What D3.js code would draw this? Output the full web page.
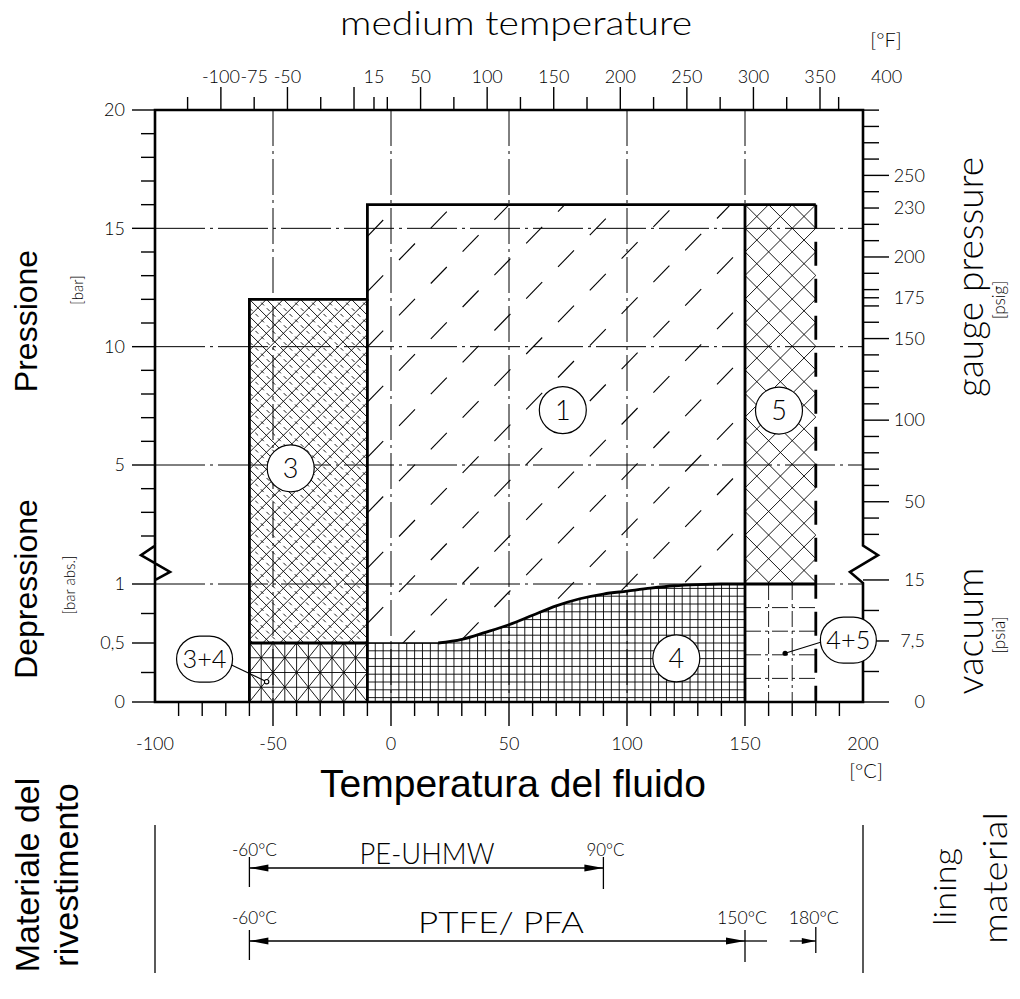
<!DOCTYPE html>
<html><head><meta charset="utf-8">
<script src="https://cdn.jsdelivr.net/npm/d3@7"></script>
<style>body{margin:0;background:#fff}svg{display:block;background:#fff}</style>
</head><body><svg id="c" width="1020" height="999"></svg>
<script>
// ---------------- DATA ----------------
const cLabels = [-100,-50,0,50,100,150,200];
const cLongTicks = [-50,0,50,100,150];
const cShortTicks = [-90,-80,-70,-60,-40,-30,-20,-10,10,20,30,40,60,70,80,90,110,120,130,140,160,170,180,190];
const fLabels = [-100,-75,-50,15,50,100,150,200,250,300,350,400];
const fLongTicks = [-100,-50,0,50,100,150,200,250,300,350];
const fShortTicks = [-125,-75,-25,15,25,75,125,175,225,275,325,364];
const barGaugeLabels = [20,15,10,5];
const barGaugeMinor = [2,3,4,6,7,8,9,11,12,13,14,16,17,18,19];
const barVacLabels = [1,0.5,0];
const barVacLabelText = ["1","0,5","0"];
const barVacMinor = [0.25,0.75];
const psigLabels = [250,230,200,175,150,100,50];
const psigLong = [250,200,150,100,50];
const psigMinor = [30,40,60,70,80,90,110,120,130,140,160,170,175,180,190,210,220,230,240,260,270,280,290];
const psiaLabels = [15,7.5,0];
const psiaLabelText = ["15","7,5","0"];
const psiaMinor = [3.75,11.25];
const gridC = [-50,0,50,100,150];
const gridGauge = [15,10,5];
const gridVac = [1];
// limit curve between zone 1 (above) and zone 4 (below): bar abs
const curveT = [-10,0,10,20,30,40,50,60,70,80,90,100,110,120,130,140,150];
const curveV = [0.5,0.5,0.5,0.5,0.53,0.59,0.655,0.735,0.815,0.875,0.915,0.94,0.965,0.985,0.995,1.0,1.0];
// zones
const zone3 = {t0:-60, t1:-10, topBar:12, bottomVac:0.5};
const zone1 = {t0:-10, t1:150, topBar:16};
const zone5 = {t0:150, t1:180, topBar:16, bottomVac:1};
const zone34 = {t0:-60, t1:-10, topVac:0.5};
const zone45 = {t0:150, t1:180, topVac:1};
const zone45GridT = [160,170];
const zone45GridV = [0.2,0.4,0.6,0.8];
// circle labels (°C, value, scale kind)
const circNames = ["1","3","4","5"];
const circT = [72.8,-42.5,120.9,164.4];
const circV = [7.32,4.86,0.37,7.3];
const circKind = ["g","g","v","g"];
const capNames = ["3+4","4+5"];
const capT = [-79,193.8];
const capV = [0.364,0.525];
const capPointT = [-52.7,167];
const capPointV = [0.172,0.413];
// lining materials
const matNames = ["PE-UHMW","PTFE/ PFA"];
const matMinC = [-60,-60];
const matMaxC = [90,150];
const matExtC = [null,180];
const PSI = 0.0689476;

// ---------------- LAYOUT ----------------
const svg = d3.select("#c");
const x = d3.scaleLinear().domain([-100,200]).range([155,863]);
const yG = d3.scaleLinear().domain([2,20]).range([536,110]);
const yV = d3.scaleLinear().domain([0,1]).range([702,584]);
const xf = d3.scaleLinear().domain([-125,350]).range([187.6,820]);
const L = x(-100), R = x(200), T = yG(20), B = yV(0);
const TECH = "Lato, 'Open Sans', sans-serif";
const ARIAL = "'Liberation Sans', Arial, sans-serif";
const ink = "#000";

svg.append("rect").attr("width",1020).attr("height",999).attr("fill","#fff");
const defs = svg.append("defs");

const curveData = curveT.map((t,i)=>({t, v:curveV[i]}));
const area1 = d3.area().x(d=>x(d.t)).y0(yG(zone1.topBar)).y1(d=>yV(d.v)).curve(d3.curveMonotoneX);
const area4 = d3.area().x(d=>x(d.t)).y0(yV(0)).y1(d=>yV(d.v)).curve(d3.curveMonotoneX);
const rectPath = (x0,y0,x1,y1)=>`M${x0},${y0}H${x1}V${y1}H${x0}Z`;
function clip(id, d){ defs.append("clipPath").attr("id",id).append("path").attr("d",d); }
clip("c1", area1(curveData));
clip("c4", area4(curveData));
clip("c3", rectPath(x(zone3.t0),yG(zone3.topBar),x(zone3.t1),yV(zone3.bottomVac)));
clip("c5", rectPath(x(zone5.t0),yG(zone5.topBar),x(zone5.t1),yV(zone5.bottomVac)));
clip("c34", rectPath(x(zone34.t0),yV(zone34.topVac),x(zone34.t1),yV(0)));
clip("c45", rectPath(x(zone45.t0),yV(zone45.topVac),x(zone45.t1),yV(0)));

function lines(g, arr, w, dash){
  g.selectAll(null).data(arr).join("line")
    .attr("x1",d=>d[0]).attr("y1",d=>d[1]).attr("x2",d=>d[2]).attr("y2",d=>d[3])
    .attr("stroke",ink).attr("stroke-width",w).attr("stroke-dasharray",dash||null);
}
function diagSet(x0,y0,step,dx,dy,n){
  const out=[]; const Lh=800;
  for(let k=-n;k<=n;k++){ const px=x0+k*step; out.push([px-dx*Lh, y0-dy*Lh, px+dx*Lh, y0+dy*Lh]); }
  return out;
}
function vSet(x0,step,n,ya,yb){ const o=[]; for(let k=-n;k<=n;k++) o.push([x0+k*step,ya,x0+k*step,yb]); return o; }
function hSet(y0,step,n,xa,xb){ const o=[]; for(let k=-n;k<=n;k++) o.push([xa,y0+k*step,xb,y0+k*step]); return o; }

// zone 4 : fine square grid
const g4 = svg.append("g").attr("clip-path","url(#c4)");
lines(g4, vSet(x(0),7.87,60,yV(1.1),yV(0)), 0.9);
lines(g4, hSet(yV(0.5),7.8,20,x(-10),x(150)), 0.9);

// zone 3+4 : grid + diamonds
const g34 = svg.append("g").attr("clip-path","url(#c34)");
lines(g34, vSet(x(-60),11.8,12,yV(0.5),yV(0)), 0.9);
lines(g34, hSet(yV(0.5),14.75,6,x(-60),x(-10)), 0.9);
lines(g34, diagSet(x(-60),yV(0.5),23.6,0.625,0.78,20), 0.9);
lines(g34, diagSet(x(-60),yV(0.5),23.6,-0.625,0.78,20), 0.9);

// zone 3 : dense cross hatch with dashed intermediate lines
const g3 = svg.append("g").attr("clip-path","url(#c3)");
lines(g3, diagSet(x(-60),yG(12),17,1,1,60), 0.9);
lines(g3, diagSet(x(-60),yG(12),17,-1,1,60), 0.9);
lines(g3, diagSet(x(-60)+8.5,yG(12),17,1,1,60), 0.9, "4,4");

// zone 5 : cross hatch
const g5 = svg.append("g").attr("clip-path","url(#c5)");
lines(g5, diagSet(x(150),yG(16),23.6,1,1,40), 0.9);
lines(g5, diagSet(x(150),yG(16),23.6,-1,1,40), 0.9);

// zone 1 : short strokes on a staggered lattice
const g1 = svg.append("g").attr("clip-path","url(#c1)");
const segs=[]; const ox=399, oy=260;
for(let m=-20;m<=20;m++) for(let n=-20;n<=20;n++){
  const px=ox+m*31.8, py=oy+m*23.5+n*55.3;
  if(px>x(-10)-20 && px<x(150)+5 && py>yG(16)-5 && py<yV(0.5)+20) segs.push([px,py,px+16,py-16.5]);
}
lines(g1, segs, 1.1);

// zone 4+5 : dashed grid
const g45 = svg.append("g").attr("clip-path","url(#c45)");
lines(g45, zone45GridT.map(t=>[x(t),yV(1),x(t),yV(0)]), 0.9, "16,4,3,4");
lines(g45, zone45GridV.map(v=>[x(150),yV(v),x(180),yV(v)]), 0.9, "16,4,3,4");

// gridlines (dash-dot)
const gGrid = svg.append("g");
lines(gGrid, gridGauge.map(p=>[L,yG(p),R,yG(p)]), 1, "50,5,3,5");
lines(gGrid, gridVac.map(v=>[L,yV(v),R,yV(v)]), 1, "50,5,3,5");
lines(gGrid, gridC.map(c=>[x(c),T,x(c),B]), 1, "36,5,3,5");

// zone outlines
const TW = 2.8;
const gOut = svg.append("g").attr("fill","none").attr("stroke",ink);
gOut.append("path").attr("stroke-width",TW)
  .attr("d",`M${x(zone3.t0)},${B}V${yG(zone3.topBar)}H${x(zone3.t1)}V${yG(zone1.topBar)}H${x(zone5.t1)}`);
gOut.append("path").attr("stroke-width",TW).attr("d",`M${x(zone3.t1)},${yG(zone3.topBar)}V${B}`);
gOut.append("path").attr("stroke-width",TW).attr("d",`M${x(zone5.t0)},${yG(zone5.topBar)}V${B}`);
gOut.append("path").attr("stroke-width",TW).attr("d",`M${x(zone3.t0)},${yV(0.5)}H${x(zone3.t1)}`);
gOut.append("path").attr("stroke-width",TW).attr("d",`M${x(zone5.t0)},${yV(1)}H${x(zone5.t1)}`);
gOut.append("path").attr("stroke-width",TW).attr("stroke-dasharray","24,13")
  .attr("d",`M${x(zone5.t1)},${yG(zone5.topBar)}V${B}`);
const lineC = d3.line().x(d=>x(d.t)).y(d=>yV(d.v)).curve(d3.curveMonotoneX);
gOut.append("path").attr("stroke-width",1.6).attr("d",lineC(curveData.slice(0,5)));
gOut.append("path").attr("stroke-width",TW).attr("d",lineC(curveData.slice(3)));

// frame with breaks
const FW = 2.6;
const brk = (a)=> yG(2) + (yV(1)-yG(2))*a;
svg.append("path").attr("fill","none").attr("stroke",ink).attr("stroke-width",FW)
  .attr("d",`M${L},${B}V${brk(0.2)}L${L-14},${brk(0.4)}L${L+15},${brk(0.75)}L${L},${brk(0.92)}V${T}H${R}V${brk(0.2)}L${R+15},${brk(0.4)}L${R-13},${brk(0.75)}L${R},${brk(0.98)}V${B}Z`);

// axes ticks
const gT = svg.append("g");
lines(gT, cLongTicks.map(c=>[x(c),B,x(c),B+24]), 1.4);
lines(gT, cShortTicks.map(c=>[x(c),B,x(c),B+14]), 1.4);
lines(gT, fLongTicks.map(f=>[xf(f),T,xf(f),T-23]), 1.4);
lines(gT, fShortTicks.map(f=>[xf(f),T,xf(f),T-13]), 1.4);
lines(gT, barGaugeLabels.map(p=>[L-23,yG(p),L,yG(p)]), 1.4);
lines(gT, barGaugeMinor.map(p=>[L-14,yG(p),L,yG(p)]), 1.4);
lines(gT, barVacLabels.map(v=>[L-23,yV(v),L,yV(v)]), 1.4);
lines(gT, barVacMinor.map(v=>[L-14,yV(v),L,yV(v)]), 1.4);
lines(gT, psigLong.map(p=>[R,yG(p*PSI),R+26,yG(p*PSI)]), 1.4);
lines(gT, psigMinor.map(p=>[R,yG(p*PSI),R+16,yG(p*PSI)]), 1.4);
lines(gT, psiaLabels.map(p=>[R,yV(p*PSI),R+26,yV(p*PSI)]), 1.4);
lines(gT, psiaMinor.map(p=>[R,yV(p*PSI),R+16,yV(p*PSI)]), 1.4);

// text helper
function txt(g, s, px, py, o){
  const t = g.append("text").attr("x",px).attr("y",py).text(s)
    .attr("font-family",o.f||TECH).attr("font-weight",o.w||300).attr("font-size",o.s)
    .attr("text-anchor",o.a||"middle").attr("fill",ink);
  if(o.dy) t.attr("dy",o.dy);
  if(o.len){ t.attr("textLength",o.len).attr("lengthAdjust","spacingAndGlyphs"); }
  if(o.rot) t.attr("transform",`rotate(${o.rot},${px},${py})`);
  return t;
}
const gL = svg.append("g");
cLabels.forEach(c=>txt(gL, String(c), x(c), 750, {s:18}));
fLabels.forEach(f=>txt(gL, String(f), xf(f), 83, {s:18}));
barGaugeLabels.forEach(p=>txt(gL, String(p), 125, yG(p), {s:18, a:"end", dy:"0.35em"}));
barVacLabels.forEach((v,i)=>txt(gL, barVacLabelText[i], 125, yV(v), {s:18, a:"end", dy:"0.35em"}));
psigLabels.forEach(p=>txt(gL, String(p), 925, yG(p*PSI), {s:18, a:"end", dy:"0.35em"}));
psiaLabels.forEach((p,i)=>txt(gL, psiaLabelText[i], 925, yV(p*PSI), {s:18, a:"end", dy:"0.35em"}));

// titles
txt(gL, "medium temperature", 516, 35, {s:33, len:352});
txt(gL, "[°F]", 886, 47, {s:20});
txt(gL, "Temperatura del fluido", 513, 797, {s:39, f:ARIAL, w:400});
txt(gL, "[°C]", 866, 778, {s:20});
txt(gL, "Pressione", 37, 321, {s:32, f:ARIAL, w:400, rot:-90});
txt(gL, "[bar]", 83, 290, {s:15, rot:-90});
txt(gL, "Depressione", 37, 589, {s:32, f:ARIAL, w:400, rot:-90});
txt(gL, "[bar abs.]", 75, 585, {s:15, rot:-90});
txt(gL, "Materiale del", 39, 875, {s:34, f:ARIAL, w:400, rot:-90});
txt(gL, "rivestimento", 78, 875, {s:34, f:ARIAL, w:400, rot:-90});
txt(gL, "gauge pressure", 983, 277, {s:38, rot:-90, len:240});
txt(gL, "[psig]", 1005, 300, {s:17, rot:-90});
txt(gL, "vacuum", 983, 631, {s:38, rot:-90, len:127});
txt(gL, "[psia]", 1005, 635, {s:17, rot:-90});
txt(gL, "lining", 956, 887, {s:31, rot:-90, len:78});
txt(gL, "material", 1007, 878, {s:33, rot:-90, len:132});

// circle labels
const gC = svg.append("g");
circNames.forEach((n,i)=>{
  const cx = x(circT[i]), cy = circKind[i]==="g" ? yG(circV[i]) : yV(circV[i]);
  gC.append("circle").attr("cx",cx).attr("cy",cy).attr("r",23.5).attr("fill","#fff").attr("stroke",ink).attr("stroke-width",1.2);
  txt(gC, n, cx, cy, {s:27, dy:"0.36em"});
});
capNames.forEach((n,i)=>{
  const cx = x(capT[i]), cy = yV(capV[i]), w = 56, h = 46;
  const px = x(capPointT[i]), py = yV(capPointV[i]);
  const sx = px>cx ? cx + w/2 - 1 : cx - w/2 + 1;
  gC.append("line").attr("x1",sx).attr("y1",cy+ (i===0?6:2)).attr("x2",px).attr("y2",py).attr("stroke",ink).attr("stroke-width",1.1);
  if(i===0) gC.append("circle").attr("cx",px).attr("cy",py).attr("r",2.2).attr("fill","#fff").attr("stroke",ink).attr("stroke-width",1.1);
  else gC.append("circle").attr("cx",px).attr("cy",py).attr("r",2.6).attr("fill",ink);
  gC.append("rect").attr("x",cx-w/2).attr("y",cy-h/2).attr("width",w).attr("height",h).attr("rx",h/2).attr("ry",h/2)
    .attr("fill","#fff").attr("stroke",ink).attr("stroke-width",1.2);
  txt(gC, n, cx, cy, {s:26, dy:"0.36em", len:44});
});

// lining material section
const gM = svg.append("g");
lines(gM, [[L,825,L,973],[R,825,R,973]], 1.3);
const rowY = [868, 941], rowLab = [856, 924], rowName = [864, 933];
function arrowHead(g, px, py, dir){
  g.append("path").attr("d",`M${px},${py}L${px-dir*19},${py-3.5}L${px-dir*19},${py+3.5}Z`).attr("fill",ink);
}
matNames.forEach((n,i)=>{
  const a = x(matMinC[i]), b = x(matMaxC[i]), yy = rowY[i];
  lines(gM, [[a,yy,b,yy],[a,yy-11,a,yy+19],[b,yy-11,b,yy+21]], 1.3);
  arrowHead(gM, a, yy, -1); arrowHead(gM, b, yy, 1);
  txt(gM, matMinC[i]+"°C", a+5, rowLab[i], {s:17, len:45});
  txt(gM, matMaxC[i]+"°C", b + (i===0?2:-3), rowLab[i], {s:17, len: i===0?38:50});
  txt(gM, n, (i===0?427:501), rowName[i], {s:30, len: i===0?135:166});
  if(matExtC[i]!==null){
    const e = x(matExtC[i]);
    lines(gM, [[b,yy,b+22,yy],[e-26,yy,e,yy],[e,yy-14,e,yy+12]], 1.3);
    gM.append("path").attr("d",`M${e},${yy}L${e-14},${yy-3}L${e-14},${yy+3}Z`).attr("fill",ink);
    txt(gM, matExtC[i]+"°C", e-2, rowLab[i], {s:17, len:50});
  }
});
</script></body></html>
